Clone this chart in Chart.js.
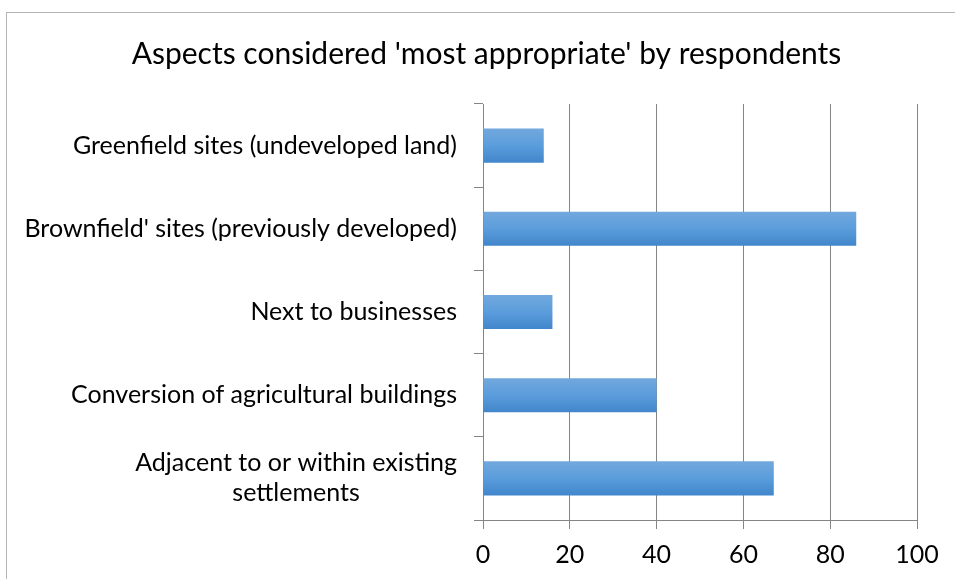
<!DOCTYPE html>
<html>
<head>
<meta charset="utf-8">
<script src="https://cdn.jsdelivr.net/npm/chart.js@4/dist/chart.umd.min.js"></script>
<style>
    body { margin: 0; background: #fff; overflow: hidden; }
    #frame {
        position: absolute; left: 6px; top: 12px;
        width: 2000px; height: 2000px;
        border: 1px solid #b3b3b3;
    }
    #wrap { position: absolute; left: 0; top: 0; width: 955px; height: 579px; }
</style>
</head>
<body>
<div id="frame"></div>
<div id="wrap"><canvas id="chart" width="955" height="579"></canvas></div>
<script>
// data
const categories = [
    "Greenfield sites (undeveloped land)",
    "Brownfield' sites (previously developed)",
    "Next to businesses",
    "Conversion of agricultural buildings",
    ["Adjacent to or within existing", "settlements"]
];
const values = [14, 86, 16, 40, 67];
const xTicks = [0, 20, 40, 60, 80, 100];
const chartTitle = "Aspects considered 'most appropriate' by respondents";

const FONT = "Lato";
const gridColor = "#858585";

function barFill(c) {
    let chart = c.chart;
    let yScale = chart.scales.y;
    if (!chart.chartArea || !yScale) return "#5a9ad8";
    let yc = yScale.getPixelForValue(c.dataIndex);
    let step = Math.abs(yScale.getPixelForValue(1) - yScale.getPixelForValue(0));
    let h = step * 0.41;
    let g = chart.ctx.createLinearGradient(0, yc - h / 2, 0, yc + h / 2);
    g.addColorStop(0, "#72a8dd");
    g.addColorStop(0.5, "#5b9ddc");
    g.addColorStop(1, "#4186cb");
    return g;
}

// category labels: block right aligned, lines centered (like the original)
const yLabels = {
    id: "yLabels",
    afterDraw(chart) {
        let ctx = chart.ctx;
        let yScale = chart.scales.y;
        let right = chart.chartArea.left - 26;
        ctx.save();
        ctx.font = "25px " + FONT;
        ctx.fillStyle = "#000";
        ctx.textAlign = "center";
        ctx.textBaseline = "middle";
        categories.forEach(function (lab, i) {
            let lines = Array.isArray(lab) ? lab : [lab];
            let w = Math.max.apply(null, lines.map(l => ctx.measureText(l).width));
            let cx = right - w / 2;
            let cy = yScale.getPixelForValue(i);
            lines.forEach(function (ln, j) {
                ctx.fillText(ln, cx, cy + (j - (lines.length - 1) / 2) * 30);
            });
        });
        ctx.restore();
    }
};

new Chart(document.getElementById("chart"), {
    type: "bar",
    data: {
        labels: categories,
        datasets: [{
            data: values,
            backgroundColor: barFill,
            borderWidth: 0,
            barPercentage: 0.41,
            categoryPercentage: 1
        }]
    },
    options: {
        indexAxis: "y",
        responsive: false,
        animation: false,
        layout: { padding: { left: 56, right: 38, top: 0, bottom: 0 } },
        plugins: {
            legend: { display: false },
            tooltip: { enabled: false },
            title: {
                display: true,
                text: chartTitle,
                color: "#000",
                font: { family: FONT, size: 30, weight: "normal", lineHeight: 1.2 },
                padding: { top: 36, bottom: 32 }
            }
        },
        scales: {
            x: {
                min: 0,
                max: 100,
                afterBuildTicks: function (axis) {
                    axis.ticks = xTicks.map(v => ({ value: v }));
                },
                afterFit: function (axis) { axis.height = 59; },
                grid: { color: gridColor, lineWidth: 1, tickLength: 9, drawTicks: true },
                border: { display: true, color: gridColor, width: 1 },
                ticks: { color: "#000", font: { family: FONT, size: 25 }, padding: 11, maxRotation: 0 }
            },
            y: {
                afterFit: function (axis) { axis.width = 427; },
                grid: { display: true, drawOnChartArea: false, drawTicks: true, tickLength: 9, color: gridColor, offset: true },
                border: { display: true, color: gridColor, width: 1 },
                ticks: { display: false }
            }
        }
    },
    plugins: [yLabels]
});
</script>
</body>
</html>
